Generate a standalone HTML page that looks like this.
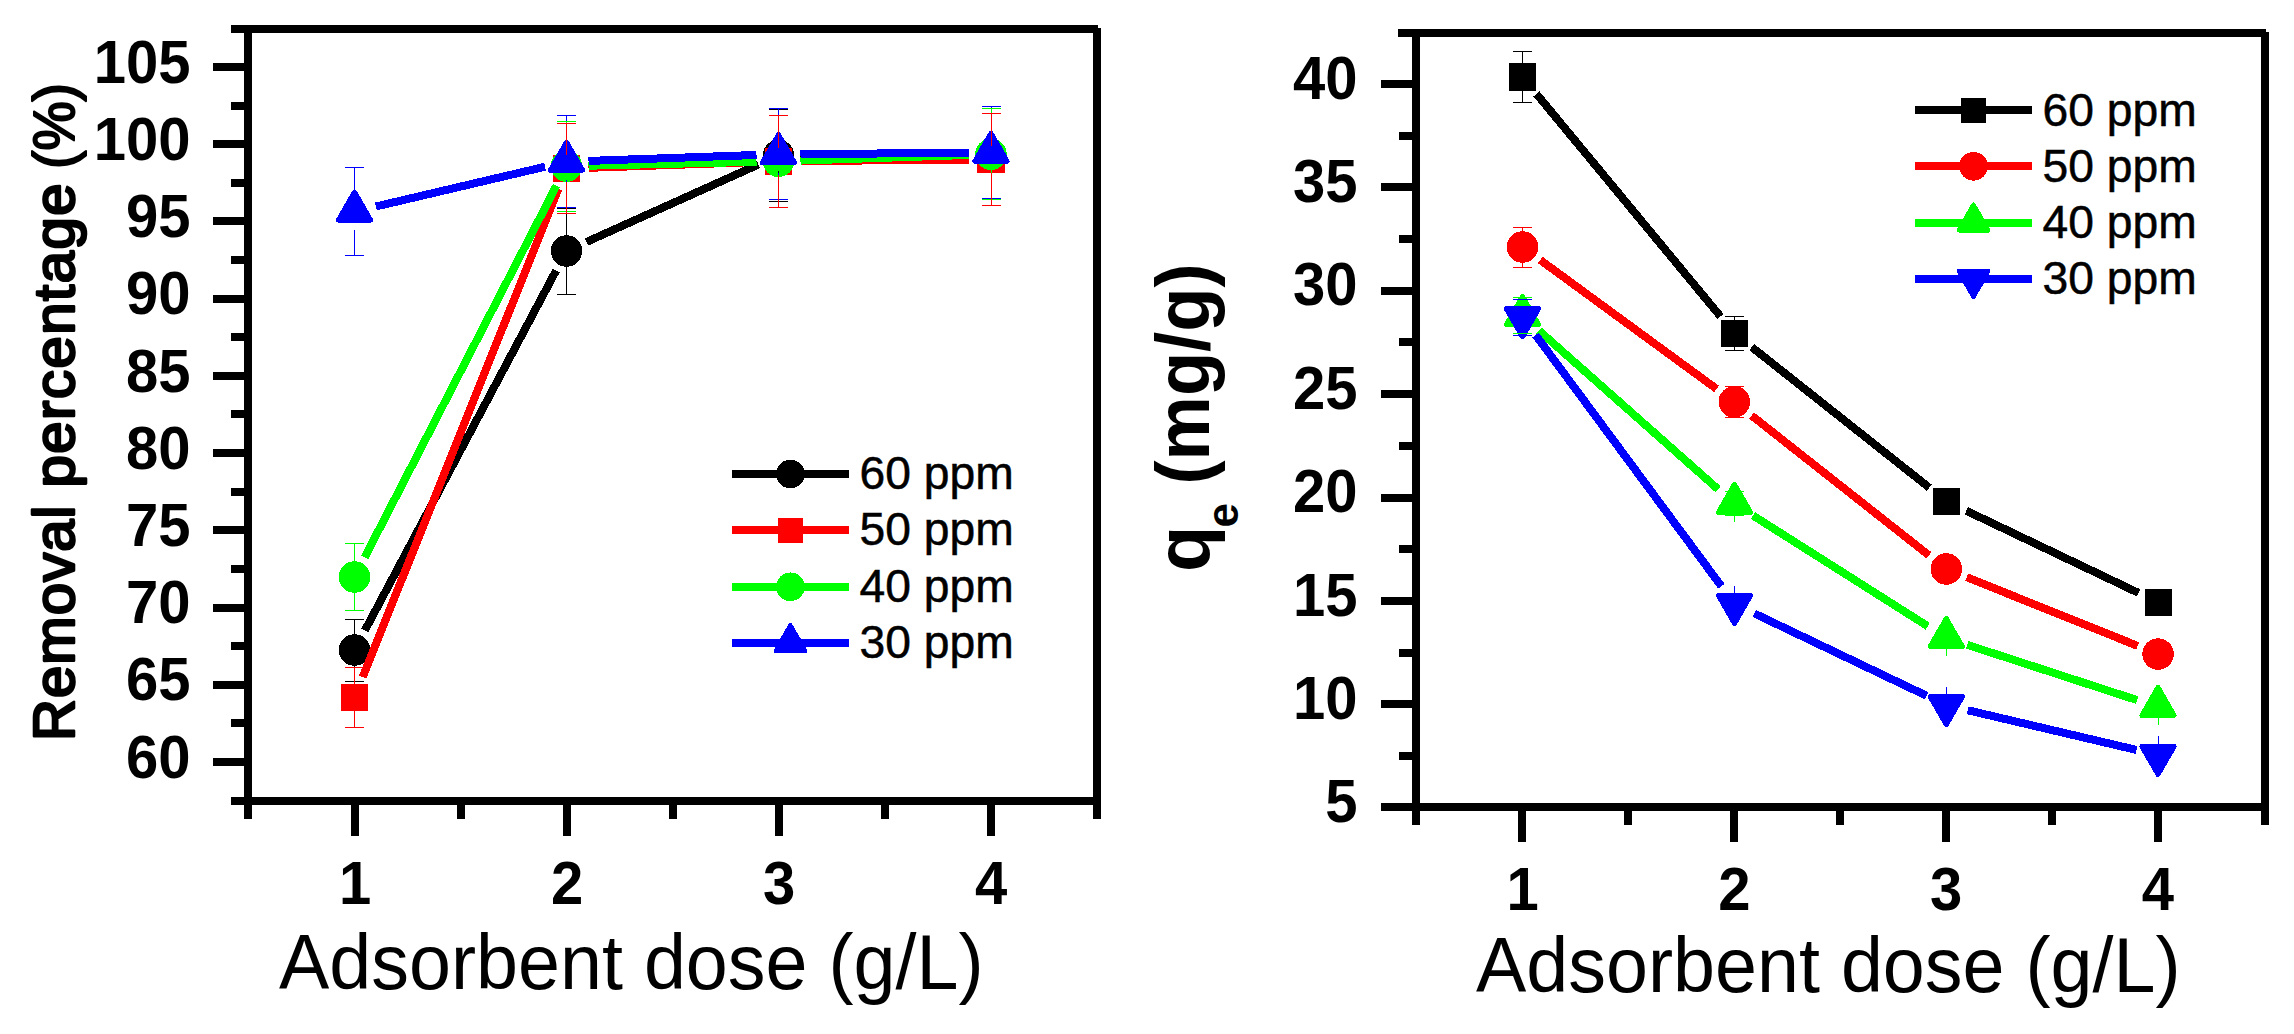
<!DOCTYPE html>
<html lang="en"><head><meta charset="utf-8"><title>Adsorbent dose plots</title>
<style>html,body{margin:0;padding:0;background:#fff}body{width:2294px;height:1034px;overflow:hidden}svg{display:block}svg text{font-family:"Liberation Sans",sans-serif}</style>
</head><body>
<svg width="2294" height="1034" viewBox="0 0 2294 1034" font-family="&quot;Liberation Sans&quot;, sans-serif" fill="#000">
<rect width="2294" height="1034" fill="#fff"/>
<g shape-rendering="crispEdges">
<rect x="231" y="25" width="867" height="8" fill="#000"/>
<rect x="231" y="797" width="870" height="8" fill="#000"/>
<rect x="244" y="25" width="8" height="794" fill="#000"/>
<rect x="1093" y="28" width="8" height="791" fill="#000"/>
<rect x="351" y="805" width="8" height="31" fill="#000"/>
<rect x="563" y="805" width="8" height="31" fill="#000"/>
<rect x="775" y="805" width="8" height="31" fill="#000"/>
<rect x="987" y="805" width="8" height="31" fill="#000"/>
<rect x="457" y="805" width="8" height="14" fill="#000"/>
<rect x="669" y="805" width="8" height="14" fill="#000"/>
<rect x="881" y="805" width="8" height="14" fill="#000"/>
<rect x="213" y="63" width="31" height="8" fill="#000"/>
<rect x="213" y="140" width="31" height="8" fill="#000"/>
<rect x="213" y="217" width="31" height="8" fill="#000"/>
<rect x="213" y="295" width="31" height="8" fill="#000"/>
<rect x="213" y="372" width="31" height="8" fill="#000"/>
<rect x="213" y="449" width="31" height="8" fill="#000"/>
<rect x="213" y="526" width="31" height="8" fill="#000"/>
<rect x="213" y="604" width="31" height="8" fill="#000"/>
<rect x="213" y="681" width="31" height="8" fill="#000"/>
<rect x="213" y="758" width="31" height="8" fill="#000"/>
<rect x="231" y="102" width="13" height="8" fill="#000"/>
<rect x="231" y="179" width="13" height="8" fill="#000"/>
<rect x="231" y="256" width="13" height="8" fill="#000"/>
<rect x="231" y="333" width="13" height="8" fill="#000"/>
<rect x="231" y="410" width="13" height="8" fill="#000"/>
<rect x="231" y="488" width="13" height="8" fill="#000"/>
<rect x="231" y="565" width="13" height="8" fill="#000"/>
<rect x="231" y="642" width="13" height="8" fill="#000"/>
<rect x="231" y="719" width="13" height="8" fill="#000"/>
</g>
<g shape-rendering="crispEdges">
<line x1="364.82" y1="630.57" x2="556.18" y2="270.43" stroke="#000" stroke-width="8"/>
<line x1="586.56" y1="241.96" x2="758.44" y2="164.54" stroke="#000" stroke-width="8"/>
<line x1="800.50" y1="155.37" x2="969.00" y2="154.33" stroke="#000" stroke-width="8"/>
<circle cx="354.5" cy="650" r="15.75" fill="#000"/>
<circle cx="566.5" cy="251" r="15.75" fill="#000"/>
<circle cx="778.5" cy="155.5" r="15.75" fill="#000"/>
<circle cx="991" cy="154.2" r="15.75" fill="#000"/>
<line x1="362.69" y1="677.08" x2="558.31" y2="189.02" stroke="#f00" stroke-width="8"/>
<line x1="588.49" y1="167.84" x2="756.51" y2="162.06" stroke="#f00" stroke-width="8"/>
<line x1="800.50" y1="161.09" x2="969.00" y2="159.51" stroke="#f00" stroke-width="8"/>
<rect x="340.75" y="683.75" width="27.5" height="27.5" fill="#f00"/>
<rect x="552.75" y="154.85" width="27.5" height="27.5" fill="#f00"/>
<rect x="764.75" y="147.55" width="27.5" height="27.5" fill="#f00"/>
<rect x="977.25" y="145.55" width="27.5" height="27.5" fill="#f00"/>
<line x1="364.59" y1="557.45" x2="556.41" y2="185.75" stroke="#0f0" stroke-width="8"/>
<line x1="588.49" y1="165.69" x2="756.51" y2="161.81" stroke="#0f0" stroke-width="8"/>
<line x1="800.49" y1="160.57" x2="969.01" y2="154.93" stroke="#0f0" stroke-width="8"/>
<circle cx="354.5" cy="577" r="15.75" fill="#0f0"/>
<circle cx="566.5" cy="166.2" r="15.75" fill="#0f0"/>
<circle cx="778.5" cy="161.3" r="15.75" fill="#0f0"/>
<circle cx="991" cy="154.2" r="15.75" fill="#0f0"/>
<line x1="375.92" y1="206.47" x2="545.08" y2="166.73" stroke="#00f" stroke-width="8"/>
<line x1="588.49" y1="160.92" x2="756.51" y2="154.98" stroke="#00f" stroke-width="8"/>
<line x1="800.50" y1="154.04" x2="969.00" y2="152.86" stroke="#00f" stroke-width="8"/>
<polygon points="354.5,192 370.6,220 338.4,220" fill="#00f" stroke="#00f" stroke-width="5" stroke-linejoin="round"/>
<polygon points="566.5,142.2 582.6,170.2 550.4,170.2" fill="#00f" stroke="#00f" stroke-width="5" stroke-linejoin="round"/>
<polygon points="778.5,134.7 794.6,162.7 762.4,162.7" fill="#00f" stroke="#00f" stroke-width="5" stroke-linejoin="round"/>
<polygon points="991,133.2 1007.1,161.2 974.9,161.2" fill="#00f" stroke="#00f" stroke-width="5" stroke-linejoin="round"/>
<rect x="354" y="619" width="1" height="15" fill="#000"/>
<rect x="345" y="619" width="19" height="1" fill="#000"/>
<rect x="354" y="666" width="1" height="15" fill="#000"/>
<rect x="345" y="681" width="19" height="1" fill="#000"/>
<rect x="566" y="208" width="1" height="27" fill="#000"/>
<rect x="557" y="208" width="19" height="1" fill="#000"/>
<rect x="566" y="267" width="1" height="27" fill="#000"/>
<rect x="557" y="294" width="19" height="1" fill="#000"/>
<rect x="778" y="110" width="1" height="30" fill="#000"/>
<rect x="769" y="109" width="19" height="1" fill="#000"/>
<rect x="778" y="171" width="1" height="31" fill="#000"/>
<rect x="769" y="201" width="19" height="1" fill="#000"/>
<rect x="991" y="109" width="1" height="29" fill="#000"/>
<rect x="982" y="108" width="19" height="1" fill="#000"/>
<rect x="991" y="170" width="1" height="30" fill="#000"/>
<rect x="982" y="199" width="19" height="1" fill="#000"/>
<rect x="354" y="168" width="1" height="25" fill="#00f"/>
<rect x="345" y="167" width="19" height="1" fill="#00f"/>
<rect x="354" y="230" width="1" height="26" fill="#00f"/>
<rect x="345" y="255" width="19" height="1" fill="#00f"/>
<rect x="566" y="116" width="1" height="27" fill="#00f"/>
<rect x="557" y="115" width="19" height="1" fill="#00f"/>
<rect x="566" y="180" width="1" height="28" fill="#00f"/>
<rect x="557" y="207" width="19" height="1" fill="#00f"/>
<rect x="778" y="109" width="1" height="27" fill="#00f"/>
<rect x="769" y="108" width="19" height="1" fill="#00f"/>
<rect x="778" y="173" width="1" height="27" fill="#00f"/>
<rect x="769" y="199" width="19" height="1" fill="#00f"/>
<rect x="991" y="107" width="1" height="27" fill="#00f"/>
<rect x="982" y="106" width="19" height="1" fill="#00f"/>
<rect x="991" y="171" width="1" height="28" fill="#00f"/>
<rect x="982" y="198" width="19" height="1" fill="#00f"/>
<rect x="354" y="544" width="1" height="17" fill="#0f0"/>
<rect x="345" y="543" width="19" height="1" fill="#0f0"/>
<rect x="354" y="593" width="1" height="17" fill="#0f0"/>
<rect x="345" y="610" width="19" height="1" fill="#0f0"/>
<rect x="566" y="121" width="1" height="29" fill="#0f0"/>
<rect x="557" y="121" width="19" height="1" fill="#0f0"/>
<rect x="566" y="182" width="1" height="29" fill="#0f0"/>
<rect x="557" y="211" width="19" height="1" fill="#0f0"/>
<rect x="778" y="115" width="1" height="31" fill="#0f0"/>
<rect x="769" y="115" width="19" height="1" fill="#0f0"/>
<rect x="778" y="177" width="1" height="30" fill="#0f0"/>
<rect x="769" y="207" width="19" height="1" fill="#0f0"/>
<rect x="991" y="109" width="1" height="29" fill="#0f0"/>
<rect x="982" y="108" width="19" height="1" fill="#0f0"/>
<rect x="991" y="170" width="1" height="30" fill="#0f0"/>
<rect x="982" y="199" width="19" height="1" fill="#0f0"/>
<rect x="354" y="668" width="1" height="16" fill="#f00"/>
<rect x="345" y="667" width="19" height="1" fill="#f00"/>
<rect x="354" y="711" width="1" height="17" fill="#f00"/>
<rect x="345" y="727" width="19" height="1" fill="#f00"/>
<rect x="566" y="123" width="1" height="32" fill="#f00"/>
<rect x="557" y="123" width="19" height="1" fill="#f00"/>
<rect x="566" y="182" width="1" height="32" fill="#f00"/>
<rect x="557" y="213" width="19" height="1" fill="#f00"/>
<rect x="778" y="115" width="1" height="33" fill="#f00"/>
<rect x="769" y="115" width="19" height="1" fill="#f00"/>
<rect x="778" y="175" width="1" height="32" fill="#f00"/>
<rect x="769" y="207" width="19" height="1" fill="#f00"/>
<rect x="991" y="113" width="1" height="33" fill="#f00"/>
<rect x="982" y="113" width="19" height="1" fill="#f00"/>
<rect x="991" y="173" width="1" height="32" fill="#f00"/>
<rect x="982" y="205" width="19" height="1" fill="#f00"/>
<rect x="732" y="470" width="117" height="8" fill="#000"/>
<circle cx="790.4" cy="474" r="14.3325" fill="#000"/>
<rect x="732" y="526" width="117" height="8" fill="#f00"/>
<rect x="777.887" y="517.887" width="25.025" height="25.025" fill="#f00"/>
<rect x="732" y="583" width="117" height="8" fill="#0f0"/>
<circle cx="790.4" cy="586.8" r="14.3325" fill="#0f0"/>
<rect x="732" y="639" width="117" height="8" fill="#00f"/>
<polygon points="790.4,625.455 805.051,650.935 775.749,650.935" fill="#00f" stroke="#00f" stroke-width="4.55" stroke-linejoin="round"/>
</g>
<text x="859.5" y="489" font-size="46" font-weight="normal" text-anchor="start" textLength="154.2" lengthAdjust="spacingAndGlyphs" stroke="#000" stroke-width="0.5">60 ppm</text>
<text x="859.5" y="545.25" font-size="46" font-weight="normal" text-anchor="start" textLength="154.2" lengthAdjust="spacingAndGlyphs" stroke="#000" stroke-width="0.5">50 ppm</text>
<text x="859.5" y="601.5" font-size="46" font-weight="normal" text-anchor="start" textLength="154.2" lengthAdjust="spacingAndGlyphs" stroke="#000" stroke-width="0.5">40 ppm</text>
<text x="859.5" y="657.75" font-size="46" font-weight="normal" text-anchor="start" textLength="154.2" lengthAdjust="spacingAndGlyphs" stroke="#000" stroke-width="0.5">30 ppm</text>
<text x="190.5" y="82.7" font-size="61.3" font-weight="bold" text-anchor="end" textLength="96.75" lengthAdjust="spacingAndGlyphs">105</text>
<text x="190.5" y="159.92" font-size="61.3" font-weight="bold" text-anchor="end" textLength="96.75" lengthAdjust="spacingAndGlyphs">100</text>
<text x="190.5" y="237.14" font-size="61.3" font-weight="bold" text-anchor="end" textLength="64.5" lengthAdjust="spacingAndGlyphs">95</text>
<text x="190.5" y="314.36" font-size="61.3" font-weight="bold" text-anchor="end" textLength="64.5" lengthAdjust="spacingAndGlyphs">90</text>
<text x="190.5" y="391.58" font-size="61.3" font-weight="bold" text-anchor="end" textLength="64.5" lengthAdjust="spacingAndGlyphs">85</text>
<text x="190.5" y="468.8" font-size="61.3" font-weight="bold" text-anchor="end" textLength="64.5" lengthAdjust="spacingAndGlyphs">80</text>
<text x="190.5" y="546.02" font-size="61.3" font-weight="bold" text-anchor="end" textLength="64.5" lengthAdjust="spacingAndGlyphs">75</text>
<text x="190.5" y="623.24" font-size="61.3" font-weight="bold" text-anchor="end" textLength="64.5" lengthAdjust="spacingAndGlyphs">70</text>
<text x="190.5" y="700.46" font-size="61.3" font-weight="bold" text-anchor="end" textLength="64.5" lengthAdjust="spacingAndGlyphs">65</text>
<text x="190.5" y="777.68" font-size="61.3" font-weight="bold" text-anchor="end" textLength="64.5" lengthAdjust="spacingAndGlyphs">60</text>
<text x="355" y="904" font-size="61.3" font-weight="bold" text-anchor="middle" textLength="32.25" lengthAdjust="spacingAndGlyphs">1</text>
<text x="567" y="904" font-size="61.3" font-weight="bold" text-anchor="middle" textLength="32.25" lengthAdjust="spacingAndGlyphs">2</text>
<text x="779" y="904" font-size="61.3" font-weight="bold" text-anchor="middle" textLength="32.25" lengthAdjust="spacingAndGlyphs">3</text>
<text x="991" y="904" font-size="61.3" font-weight="bold" text-anchor="middle" textLength="32.25" lengthAdjust="spacingAndGlyphs">4</text>
<text x="279" y="989" font-size="77.3" font-weight="normal" text-anchor="start" textLength="704.6" lengthAdjust="spacingAndGlyphs">Adsorbent dose (g/L)</text>
<g transform="translate(73.5,741) rotate(-90)" font-size="58" stroke="#000" stroke-linejoin="round">
<text x="0" y="0" stroke-width="2.6" textLength="235.5" lengthAdjust="spacing">Removal</text>
<text x="253.5" y="0" stroke-width="2.6" textLength="304" lengthAdjust="spacing">percentage</text>
<text x="572" y="0" stroke-width="2" textLength="86" lengthAdjust="spacingAndGlyphs">(%)</text>
</g>
<g shape-rendering="crispEdges">
<rect x="1398" y="29" width="868" height="8" fill="#000"/>
<rect x="1381" y="803" width="888" height="8" fill="#000"/>
<rect x="1412" y="29" width="8" height="796" fill="#000"/>
<rect x="2261" y="32" width="8" height="793" fill="#000"/>
<rect x="1518" y="811" width="8" height="31" fill="#000"/>
<rect x="1730" y="811" width="8" height="31" fill="#000"/>
<rect x="1942" y="811" width="8" height="31" fill="#000"/>
<rect x="2154" y="811" width="8" height="31" fill="#000"/>
<rect x="1624" y="811" width="8" height="14" fill="#000"/>
<rect x="1836" y="811" width="8" height="14" fill="#000"/>
<rect x="2048" y="811" width="8" height="14" fill="#000"/>
<rect x="1381" y="80" width="31" height="8" fill="#000"/>
<rect x="1381" y="183" width="31" height="8" fill="#000"/>
<rect x="1381" y="287" width="31" height="8" fill="#000"/>
<rect x="1381" y="390" width="31" height="8" fill="#000"/>
<rect x="1381" y="494" width="31" height="8" fill="#000"/>
<rect x="1381" y="597" width="31" height="8" fill="#000"/>
<rect x="1381" y="700" width="31" height="8" fill="#000"/>
<rect x="1399" y="132" width="13" height="8" fill="#000"/>
<rect x="1399" y="235" width="13" height="8" fill="#000"/>
<rect x="1399" y="338" width="13" height="8" fill="#000"/>
<rect x="1399" y="442" width="13" height="8" fill="#000"/>
<rect x="1399" y="545" width="13" height="8" fill="#000"/>
<rect x="1399" y="649" width="13" height="8" fill="#000"/>
<rect x="1399" y="752" width="13" height="8" fill="#000"/>
</g>
<g shape-rendering="crispEdges">
<line x1="1536.52" y1="93.95" x2="1720.48" y2="316.45" stroke="#000" stroke-width="8"/>
<line x1="1751.75" y1="347.06" x2="1929.25" y2="487.64" stroke="#000" stroke-width="8"/>
<line x1="1966.36" y1="510.77" x2="2138.54" y2="592.93" stroke="#000" stroke-width="8"/>
<rect x="1508.75" y="63.25" width="27.5" height="27.5" fill="#000"/>
<rect x="1720.75" y="319.65" width="27.5" height="27.5" fill="#000"/>
<rect x="1932.75" y="487.55" width="27.5" height="27.5" fill="#000"/>
<rect x="2144.65" y="588.65" width="27.5" height="27.5" fill="#000"/>
<line x1="1540.26" y1="259.99" x2="1716.54" y2="388.91" stroke="#f00" stroke-width="8"/>
<line x1="1751.58" y1="415.52" x2="1929.02" y2="555.38" stroke="#f00" stroke-width="8"/>
<line x1="1966.71" y1="577.20" x2="2137.69" y2="645.90" stroke="#f00" stroke-width="8"/>
<circle cx="1522.5" cy="247" r="15.75" fill="#f00"/>
<circle cx="1734.3" cy="401.9" r="15.75" fill="#f00"/>
<circle cx="1946.3" cy="569" r="15.75" fill="#f00"/>
<circle cx="2158.1" cy="654.1" r="15.75" fill="#f00"/>
<line x1="1538.97" y1="330.59" x2="1718.03" y2="489.21" stroke="#0f0" stroke-width="8"/>
<line x1="1753.08" y1="515.57" x2="1927.72" y2="626.23" stroke="#0f0" stroke-width="8"/>
<line x1="1967.22" y1="644.81" x2="2137.08" y2="700.09" stroke="#0f0" stroke-width="8"/>
<polygon points="1522.5,296.5 1538.6,324.5 1506.4,324.5" fill="#0f0" stroke="#0f0" stroke-width="5" stroke-linejoin="round"/>
<polygon points="1734.5,484.3 1750.6,512.3 1718.4,512.3" fill="#0f0" stroke="#0f0" stroke-width="5" stroke-linejoin="round"/>
<polygon points="1946.3,618.5 1962.4,646.5 1930.2,646.5" fill="#0f0" stroke="#0f0" stroke-width="5" stroke-linejoin="round"/>
<polygon points="2158,687.4 2174.1,715.4 2141.9,715.4" fill="#0f0" stroke="#0f0" stroke-width="5" stroke-linejoin="round"/>
<line x1="1535.58" y1="334.99" x2="1721.42" y2="586.31" stroke="#00f" stroke-width="8"/>
<line x1="1754.35" y1="613.48" x2="1926.45" y2="695.72" stroke="#00f" stroke-width="8"/>
<line x1="1967.72" y1="710.24" x2="2136.58" y2="749.96" stroke="#00f" stroke-width="8"/>
<polygon points="1522.5,336.8 1538.6,308.8 1506.4,308.8" fill="#00f" stroke="#00f" stroke-width="5" stroke-linejoin="round"/>
<polygon points="1734.5,623.5 1750.6,595.5 1718.4,595.5" fill="#00f" stroke="#00f" stroke-width="5" stroke-linejoin="round"/>
<polygon points="1946.3,724.7 1962.4,696.7 1930.2,696.7" fill="#00f" stroke="#00f" stroke-width="5" stroke-linejoin="round"/>
<polygon points="2158,774.5 2174.1,746.5 2141.9,746.5" fill="#00f" stroke="#00f" stroke-width="5" stroke-linejoin="round"/>
<rect x="1522" y="52" width="1" height="11" fill="#000"/>
<rect x="1513" y="51" width="19" height="1" fill="#000"/>
<rect x="1522" y="91" width="1" height="11" fill="#000"/>
<rect x="1513" y="102" width="19" height="1" fill="#000"/>
<rect x="1734" y="316" width="1" height="4" fill="#000"/>
<rect x="1725" y="316" width="19" height="1" fill="#000"/>
<rect x="1734" y="347" width="1" height="3" fill="#000"/>
<rect x="1725" y="350" width="19" height="1" fill="#000"/>
<rect x="1522" y="227" width="1" height="4" fill="#f00"/>
<rect x="1513" y="227" width="19" height="1" fill="#f00"/>
<rect x="1522" y="263" width="1" height="4" fill="#f00"/>
<rect x="1513" y="267" width="19" height="1" fill="#f00"/>
<rect x="1734" y="386" width="1" height="0" fill="#f00"/>
<rect x="1725" y="386" width="19" height="1" fill="#f00"/>
<rect x="1734" y="417" width="1" height="1" fill="#f00"/>
<rect x="1725" y="417" width="19" height="1" fill="#f00"/>
<rect x="1522" y="298" width="1" height="0" fill="#0f0"/>
<rect x="1513" y="297" width="19" height="1" fill="#0f0"/>
<rect x="1522" y="334" width="1" height="0" fill="#0f0"/>
<rect x="1513" y="333" width="19" height="1" fill="#0f0"/>
<rect x="1734" y="485" width="1" height="6" fill="#0f0"/>
<rect x="1725" y="491" width="19" height="1" fill="#0f0"/>
<rect x="1734" y="516" width="1" height="6" fill="#0f0"/>
<rect x="1725" y="515" width="19" height="1" fill="#0f0"/>
<rect x="1946" y="620" width="1" height="15" fill="#0f0"/>
<rect x="1937" y="635" width="19" height="1" fill="#0f0"/>
<rect x="1946" y="641" width="1" height="15" fill="#0f0"/>
<rect x="1937" y="641" width="19" height="1" fill="#0f0"/>
<rect x="2158" y="688" width="1" height="16" fill="#0f0"/>
<rect x="2149" y="703" width="19" height="1" fill="#0f0"/>
<rect x="2158" y="710" width="1" height="15" fill="#0f0"/>
<rect x="2149" y="709" width="19" height="1" fill="#0f0"/>
<rect x="1522" y="299" width="1" height="0" fill="#00f"/>
<rect x="1513" y="299" width="19" height="1" fill="#00f"/>
<rect x="1522" y="335" width="1" height="1" fill="#00f"/>
<rect x="1513" y="335" width="19" height="1" fill="#00f"/>
<rect x="1734" y="586" width="1" height="15" fill="#00f"/>
<rect x="1725" y="601" width="19" height="1" fill="#00f"/>
<rect x="1734" y="607" width="1" height="15" fill="#00f"/>
<rect x="1725" y="607" width="19" height="1" fill="#00f"/>
<rect x="1946" y="687" width="1" height="15" fill="#00f"/>
<rect x="1937" y="702" width="19" height="1" fill="#00f"/>
<rect x="1946" y="708" width="1" height="16" fill="#00f"/>
<rect x="1937" y="708" width="19" height="1" fill="#00f"/>
<rect x="2158" y="736" width="1" height="16" fill="#00f"/>
<rect x="2149" y="752" width="19" height="1" fill="#00f"/>
<rect x="2158" y="758" width="1" height="16" fill="#00f"/>
<rect x="2149" y="758" width="19" height="1" fill="#00f"/>
<rect x="1915" y="106" width="117" height="8" fill="#000"/>
<rect x="1960.99" y="97.9875" width="25.025" height="25.025" fill="#000"/>
<rect x="1915" y="162" width="117" height="8" fill="#f00"/>
<circle cx="1973.5" cy="166.3" r="14.3325" fill="#f00"/>
<rect x="1915" y="219" width="117" height="8" fill="#0f0"/>
<polygon points="1973.5,204.855 1988.15,230.335 1958.85,230.335" fill="#0f0" stroke="#0f0" stroke-width="4.55" stroke-linejoin="round"/>
<rect x="1915" y="275" width="117" height="8" fill="#00f"/>
<polygon points="1973.5,296.645 1988.15,271.165 1958.85,271.165" fill="#00f" stroke="#00f" stroke-width="4.55" stroke-linejoin="round"/>
</g>
<text x="2042.5" y="125.5" font-size="46" font-weight="normal" text-anchor="start" textLength="154.2" lengthAdjust="spacingAndGlyphs" stroke="#000" stroke-width="0.5">60 ppm</text>
<text x="2042.5" y="181.75" font-size="46" font-weight="normal" text-anchor="start" textLength="154.2" lengthAdjust="spacingAndGlyphs" stroke="#000" stroke-width="0.5">50 ppm</text>
<text x="2042.5" y="238" font-size="46" font-weight="normal" text-anchor="start" textLength="154.2" lengthAdjust="spacingAndGlyphs" stroke="#000" stroke-width="0.5">40 ppm</text>
<text x="2042.5" y="294.25" font-size="46" font-weight="normal" text-anchor="start" textLength="154.2" lengthAdjust="spacingAndGlyphs" stroke="#000" stroke-width="0.5">30 ppm</text>
<text x="1357.5" y="98.6" font-size="61.3" font-weight="bold" text-anchor="end" textLength="64.5" lengthAdjust="spacingAndGlyphs">40</text>
<text x="1357.5" y="202" font-size="61.3" font-weight="bold" text-anchor="end" textLength="64.5" lengthAdjust="spacingAndGlyphs">35</text>
<text x="1357.5" y="305.4" font-size="61.3" font-weight="bold" text-anchor="end" textLength="64.5" lengthAdjust="spacingAndGlyphs">30</text>
<text x="1357.5" y="408.8" font-size="61.3" font-weight="bold" text-anchor="end" textLength="64.5" lengthAdjust="spacingAndGlyphs">25</text>
<text x="1357.5" y="512.2" font-size="61.3" font-weight="bold" text-anchor="end" textLength="64.5" lengthAdjust="spacingAndGlyphs">20</text>
<text x="1357.5" y="615.6" font-size="61.3" font-weight="bold" text-anchor="end" textLength="64.5" lengthAdjust="spacingAndGlyphs">15</text>
<text x="1357.5" y="719" font-size="61.3" font-weight="bold" text-anchor="end" textLength="64.5" lengthAdjust="spacingAndGlyphs">10</text>
<text x="1357.5" y="822.4" font-size="61.3" font-weight="bold" text-anchor="end" textLength="32.25" lengthAdjust="spacingAndGlyphs">5</text>
<text x="1522.5" y="910" font-size="61.3" font-weight="bold" text-anchor="middle" textLength="32.25" lengthAdjust="spacingAndGlyphs">1</text>
<text x="1734.3" y="910" font-size="61.3" font-weight="bold" text-anchor="middle" textLength="32.25" lengthAdjust="spacingAndGlyphs">2</text>
<text x="1946.1" y="910" font-size="61.3" font-weight="bold" text-anchor="middle" textLength="32.25" lengthAdjust="spacingAndGlyphs">3</text>
<text x="2157.9" y="910" font-size="61.3" font-weight="bold" text-anchor="middle" textLength="32.25" lengthAdjust="spacingAndGlyphs">4</text>
<text x="1476" y="992" font-size="77.3" font-weight="normal" text-anchor="start" textLength="704.6" lengthAdjust="spacingAndGlyphs">Adsorbent dose (g/L)</text>
<g transform="translate(1209,572) rotate(-90)" font-weight="bold">
<text x="0" y="0" font-size="76">q</text>
<text x="44.5" y="29" font-size="44">e</text>
<text x="87.5" y="0" font-size="76" textLength="221" lengthAdjust="spacingAndGlyphs">(mg/g)</text>
</g>
</svg>
</body></html>
